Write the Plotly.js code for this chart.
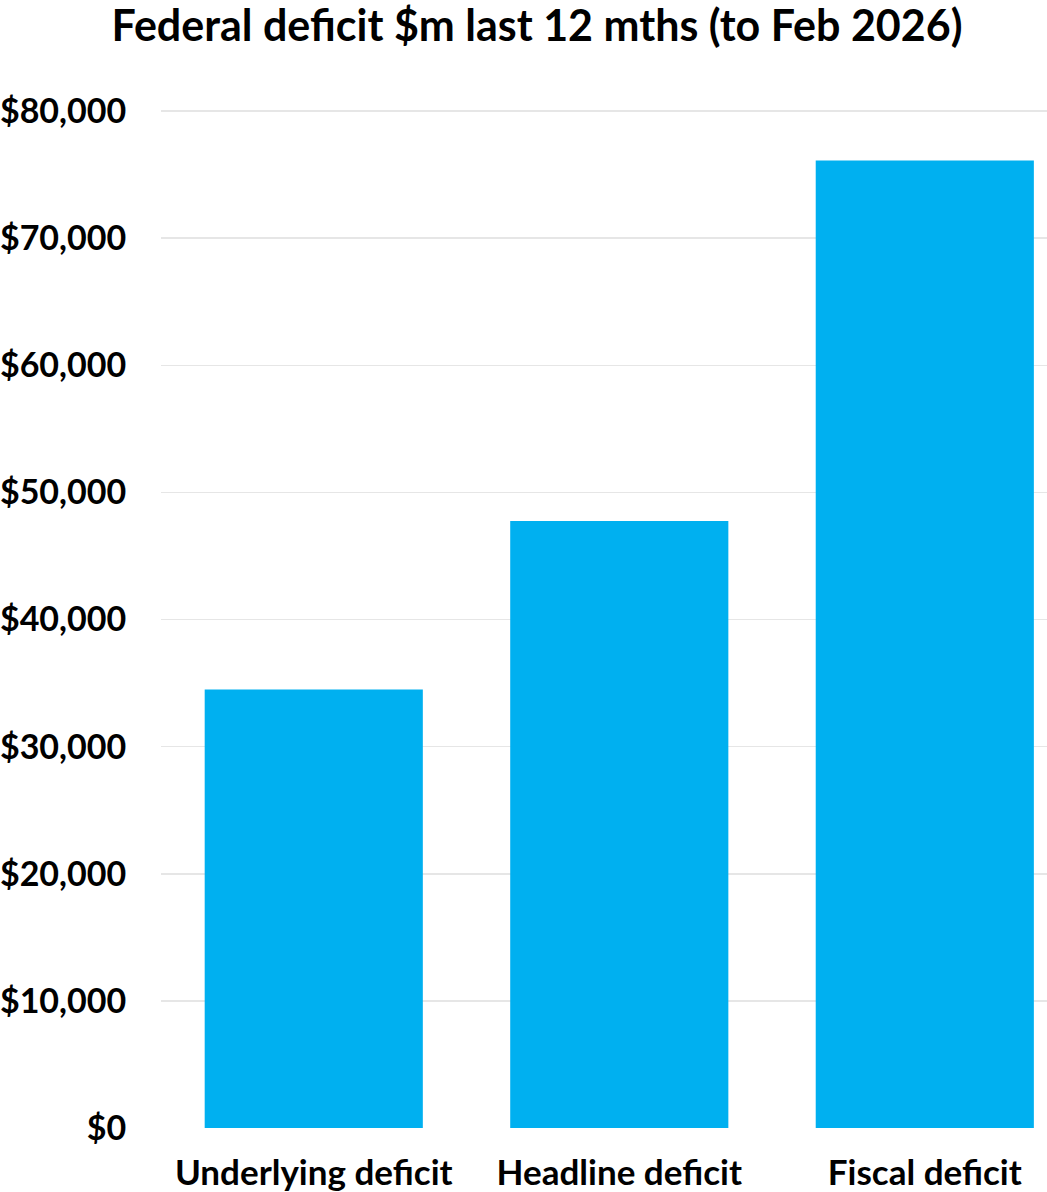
<!DOCTYPE html>
<html>
<head>
<meta charset="utf-8">
<script src="https://cdn.plot.ly/plotly-3.0.1.min.js"></script>
<style>html,body{margin:0;padding:0;background:#fff;}#chart{width:1047px;height:1192px;}</style>
</head>
<body>
<div id="chart"></div>
<script>
const categories = ["Underlying deficit", "Headline deficit", "Fiscal deficit"];
const deficitValues = [34500, 47750, 76100];
const yTickValues = [0, 10000, 20000, 30000, 40000, 50000, 60000, 70000, 80000];
const yTickLabels = ["$0", "$10,000", "$20,000", "$30,000", "$40,000", "$50,000", "$60,000", "$70,000", "$80,000"];
const chartTitle = "Federal deficit $m last 12 mths (to Feb 2026)";

const trace = {
  type: "bar",
  x: categories,
  y: deficitValues,
  width: 0.714,
  marker: { color: "#00B0F0", line: { width: 0 } },
  hoverinfo: "x+y"
};

const layout = {
  width: 1047,
  height: 1192,
  paper_bgcolor: "#ffffff",
  plot_bgcolor: "#ffffff",
  font: { family: "Lato, 'Open Sans', sans-serif", color: "#000000" },
  margin: { l: 161, r: 0, t: 109, b: 64, pad: 0 },
  title: {
    text: chartTitle,
    font: { family: "Lato, sans-serif", size: 43, weight: 700, color: "#000000" },
    x: 537 / 1047, xanchor: "center", xref: "container",
    y: 1 - 26 / 1192, yanchor: "middle", yref: "container"
  },
  showlegend: false,
  bargap: 0.286,
  xaxis: {
    type: "category",
    range: [-0.5, 2.4],
    showgrid: false,
    zeroline: false,
    showline: false,
    ticks: "outside",
    ticklen: 14,
    tickcolor: "rgba(0,0,0,0)",
    tickfont: { family: "Lato, sans-serif", size: 35, weight: 700, color: "#000000" }
  },
  yaxis: {
    range: [0, 80160],
    tickvals: yTickValues,
    ticktext: yTickLabels,
    showgrid: true,
    gridcolor: "#e6e6e6",
    gridwidth: 1.5,
    zeroline: false,
    showline: false,
    ticks: "outside",
    ticklen: 27,
    tickcolor: "rgba(0,0,0,0)",
    tickfont: { family: "Lato, sans-serif", size: 34, weight: 700, color: "#000000" }
  }
};

Plotly.newPlot("chart", [trace], layout, { displayModeBar: false, staticPlot: true });
</script>
</body>
</html>
